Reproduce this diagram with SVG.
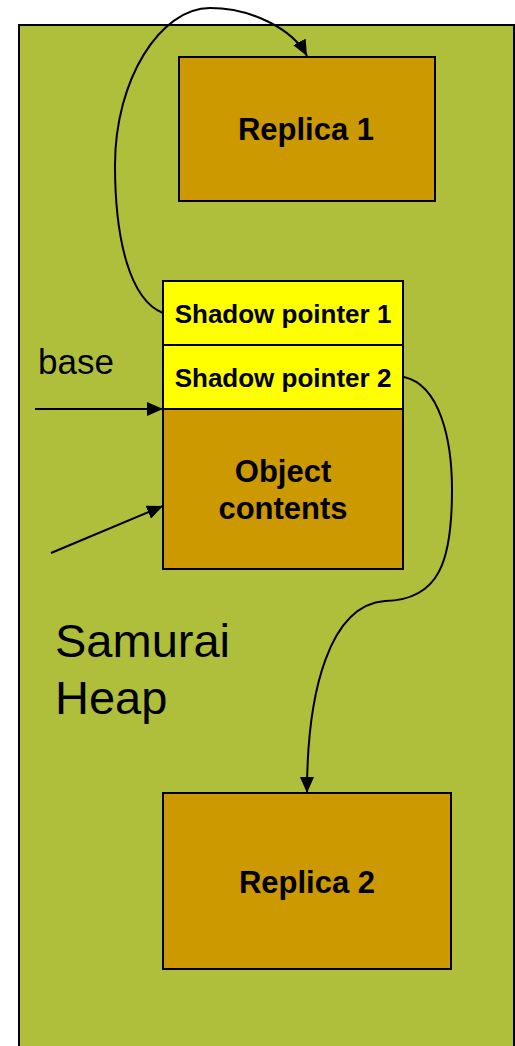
<svg xmlns="http://www.w3.org/2000/svg" width="515" height="1046" viewBox="0 0 515 1046">
  <style>
    .heap { fill: #AFBF3B; stroke: #000; stroke-width: 2; }
    .block { fill: #CC9900; stroke: #000; stroke-width: 2; }
    .slot { fill: #FFFF00; stroke: #000; stroke-width: 2; }
    .bold { font-family: "Liberation Sans", Arial, sans-serif; font-weight: bold; fill: #000; text-anchor: middle; }
    .plain { font-family: "Liberation Sans", Arial, sans-serif; fill: #000; }
    .link { fill: none; stroke: #000; stroke-width: 2; marker-end: url(#head); }
  </style>
  <defs>
    <marker id="head" viewBox="0 0 16 14" refX="16" refY="7" markerWidth="16" markerHeight="14" markerUnits="userSpaceOnUse" orient="auto">
      <path d="M0,0 L16,7 L0,14 Z" fill="#000"/>
    </marker>
  </defs>

  <rect width="515" height="1046" fill="#fff"/>

  <!-- heap region -->
  <g id="heap">
    <rect class="heap" x="19" y="25" width="495" height="1040"/>
    <text class="plain" font-size="47" x="55" y="657">Samurai</text>
    <text class="plain" font-size="47" x="55" y="714">Heap</text>
  </g>

  <g id="replica1">
    <rect class="block" x="179" y="57" width="256" height="144"/>
    <text class="bold" font-size="31" x="306" y="140">Replica 1</text>
  </g>

  <g id="shadow1">
    <rect class="slot" x="163" y="281" width="240" height="64"/>
    <text class="bold" font-size="26" x="283" y="323">Shadow pointer 1</text>
  </g>

  <g id="shadow2">
    <rect class="slot" x="163" y="345" width="240" height="64"/>
    <text class="bold" font-size="26" x="283" y="387">Shadow pointer 2</text>
  </g>

  <g id="object">
    <rect class="block" x="163" y="409" width="240" height="160"/>
    <text class="bold" font-size="31" x="283" y="482">Object</text>
    <text class="bold" font-size="31" x="283" y="519">contents</text>
  </g>

  <g id="replica2">
    <rect class="block" x="163" y="793" width="288" height="176"/>
    <text class="bold" font-size="31" x="307" y="893">Replica 2</text>
  </g>

  <g id="label-base">
    <text class="plain" font-size="35" x="38" y="374">base</text>
  </g>

  <!-- pointers -->
  <g id="connectors">
    <path class="link" d="M163,313 C130,300 115,240 115,165 C115,80 160,8 210,8 C250,8 292,28 307,56"/>
    <path class="link" d="M404,377 C440,385 452,440 452,490 C452,560 440,600 385,601 C330,605 307,690 307,793"/>
    <path class="link" d="M35,409 L163,409"/>
    <path class="link" d="M51,553 L163,506"/>
  </g>
</svg>
